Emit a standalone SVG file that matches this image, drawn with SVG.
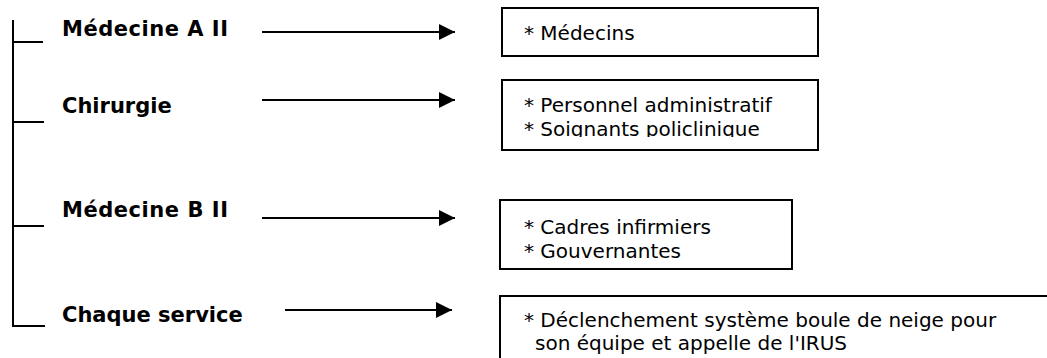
<svg xmlns="http://www.w3.org/2000/svg" width="1047" height="358" viewBox="0 0 1047 358">
<style>
.lbl{font-family:"DejaVu Sans",Verdana,sans-serif;font-weight:bold;font-size:21px;fill:#000}
.txt{font-family:"DejaVu Sans",Verdana,sans-serif;font-size:20px;fill:#000}
.box{fill:#fff;stroke:#000;stroke-width:2}
.ln{stroke:#000;stroke-width:2;fill:none}
</style>
<defs>
<marker id="ah" viewBox="0 0 16 16" refX="16" refY="8" markerWidth="16" markerHeight="16" markerUnits="userSpaceOnUse" orient="auto">
<path d="M0,0 L16,8 L0,16 Z" fill="#000"/>
</marker>
<clipPath id="c2"><rect x="502" y="80" width="316" height="57"/></clipPath>
</defs>
<g id="tree">
<line class="ln" x1="13" y1="20" x2="13" y2="327"/>
<line class="ln" x1="13" y1="42" x2="43" y2="42"/>
<line class="ln" x1="13" y1="122" x2="44" y2="122"/>
<line class="ln" x1="13" y1="226" x2="44" y2="226"/>
<line class="ln" x1="13" y1="326" x2="45" y2="326"/>
</g>
<g id="n1"><text class="lbl" x="62" y="36" textLength="166" lengthAdjust="spacing">Médecine A II</text></g>
<g id="n2"><text class="lbl" x="62" y="113">Chirurgie</text></g>
<g id="n3"><text class="lbl" x="62" y="217" textLength="166" lengthAdjust="spacing">Médecine B II</text></g>
<g id="n4"><text class="lbl" x="62" y="322">Chaque service</text></g>
<g id="connectors">
<line class="ln" x1="262" y1="32" x2="455" y2="32" marker-end="url(#ah)"/>
<line class="ln" x1="262" y1="100" x2="455" y2="100" marker-end="url(#ah)"/>
<line class="ln" x1="262" y1="218" x2="455" y2="218" marker-end="url(#ah)"/>
<line class="ln" x1="285" y1="310" x2="452" y2="310" marker-end="url(#ah)"/>
</g>
<g id="b1">
<rect class="box" x="502" y="8" width="316" height="48"/>
<text class="txt" x="524" y="40">* Médecins</text>
</g>
<g id="b2">
<rect class="box" x="502" y="80" width="316" height="70"/>
<g clip-path="url(#c2)">
<text class="txt" x="524" y="112">* Personnel administratif</text>
<text class="txt" x="524" y="136">* Soignants policlinique</text>
</g>
</g>
<g id="b3">
<rect class="box" x="500" y="200" width="292" height="69"/>
<text class="txt" x="524" y="234">* Cadres infirmiers</text>
<text class="txt" x="524" y="258">* Gouvernantes</text>
</g>
<g id="b4">
<rect class="box" x="500" y="296" width="560" height="80"/>
<text class="txt" x="524" y="327">* Déclenchement système boule de neige pour</text>
<text class="txt" x="535" y="350">son équipe et appelle de l'IRUS</text>
</g>
</svg>
